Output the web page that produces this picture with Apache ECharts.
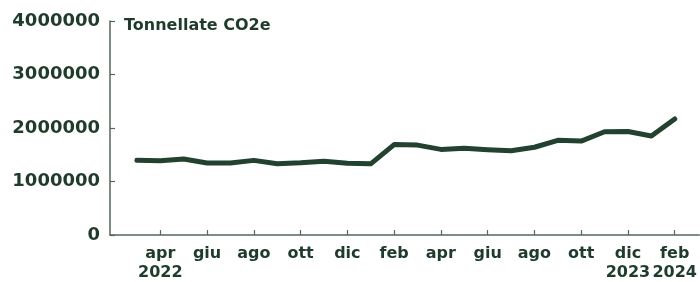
<!DOCTYPE html>
<html><head><meta charset="utf-8">
<script src="https://cdn.jsdelivr.net/npm/echarts@6/dist/echarts.min.js"></script>
<style>html,body{margin:0;padding:0;background:#fff}#c{width:700px;height:282px}</style>
</head><body><div id="c"></div>
<script>
// months from mar 2022 to feb 2024 (index 0..23)
const months = ["mar","apr","mag","giu","lug","ago","set","ott","nov","dic","gen","feb",
                "mar","apr","mag","giu","lug","ago","set","ott","nov","dic","gen","feb"];
const yearLabels = {1:"2022", 21:"2023", 23:"2024"};
const emissions = [1395000,1390000,1420000,1345000,1345000,1395000,1330000,1350000,1380000,1340000,1330000,1690000,
                   1680000,1600000,1620000,1595000,1575000,1640000,1770000,1755000,1930000,1935000,1850000,2170000];
const yTicks = [0,1000000,2000000,3000000,4000000];
const xTickIdx = [1,3,5,7,9,11,13,15,17,19,21,23];
const axisTitle = "Tonnellate CO2e";

const ink = "#1f3b2b";
const axisColor = "#56675b";
const font = "DejaVu Sans";
const chart = echarts.init(document.getElementById('c'));
chart.setOption({
  animation:false,
  title:{text:axisTitle,left:119,top:13,textStyle:{fontFamily:font,fontWeight:'bold',fontSize:16,color:ink}},
  grid:{left:110,right:0,top:21,bottom:42.5,containLabel:false},
  xAxis:{type:'value',min:-1.15,max:24.05,
    axisLine:{show:true,onZero:false,lineStyle:{color:axisColor,width:1.5}},
    axisTick:{show:true,inside:true,length:5,customValues:xTickIdx,lineStyle:{color:axisColor,width:1.2}},
    splitLine:{show:false},
    axisLabel:{customValues:xTickIdx,margin:9,fontFamily:font,fontWeight:'bold',fontSize:16,color:ink,lineHeight:19,
      formatter:v=>{const i=Math.round(v);return yearLabels[i]?months[i]+"\n"+yearLabels[i]:months[i];}}
  },
  yAxis:{type:'value',min:0,max:4000000,interval:1000000,
    axisLine:{show:true,onZero:false,lineStyle:{color:axisColor,width:1.5}},
    axisTick:{show:true,inside:true,length:5,lineStyle:{color:axisColor,width:1.2}},
    splitLine:{show:false},
    axisLabel:{margin:10,fontFamily:font,fontWeight:'bold',fontSize:18,color:ink,
      formatter:v=>String(Math.round(v))}
  },
  series:[{type:'line',data:emissions.map((v,i)=>[i,v]),symbol:'none',
    lineStyle:{color:'#23412f',width:5,cap:'round',join:'round'}}]
});
</script></body></html>
